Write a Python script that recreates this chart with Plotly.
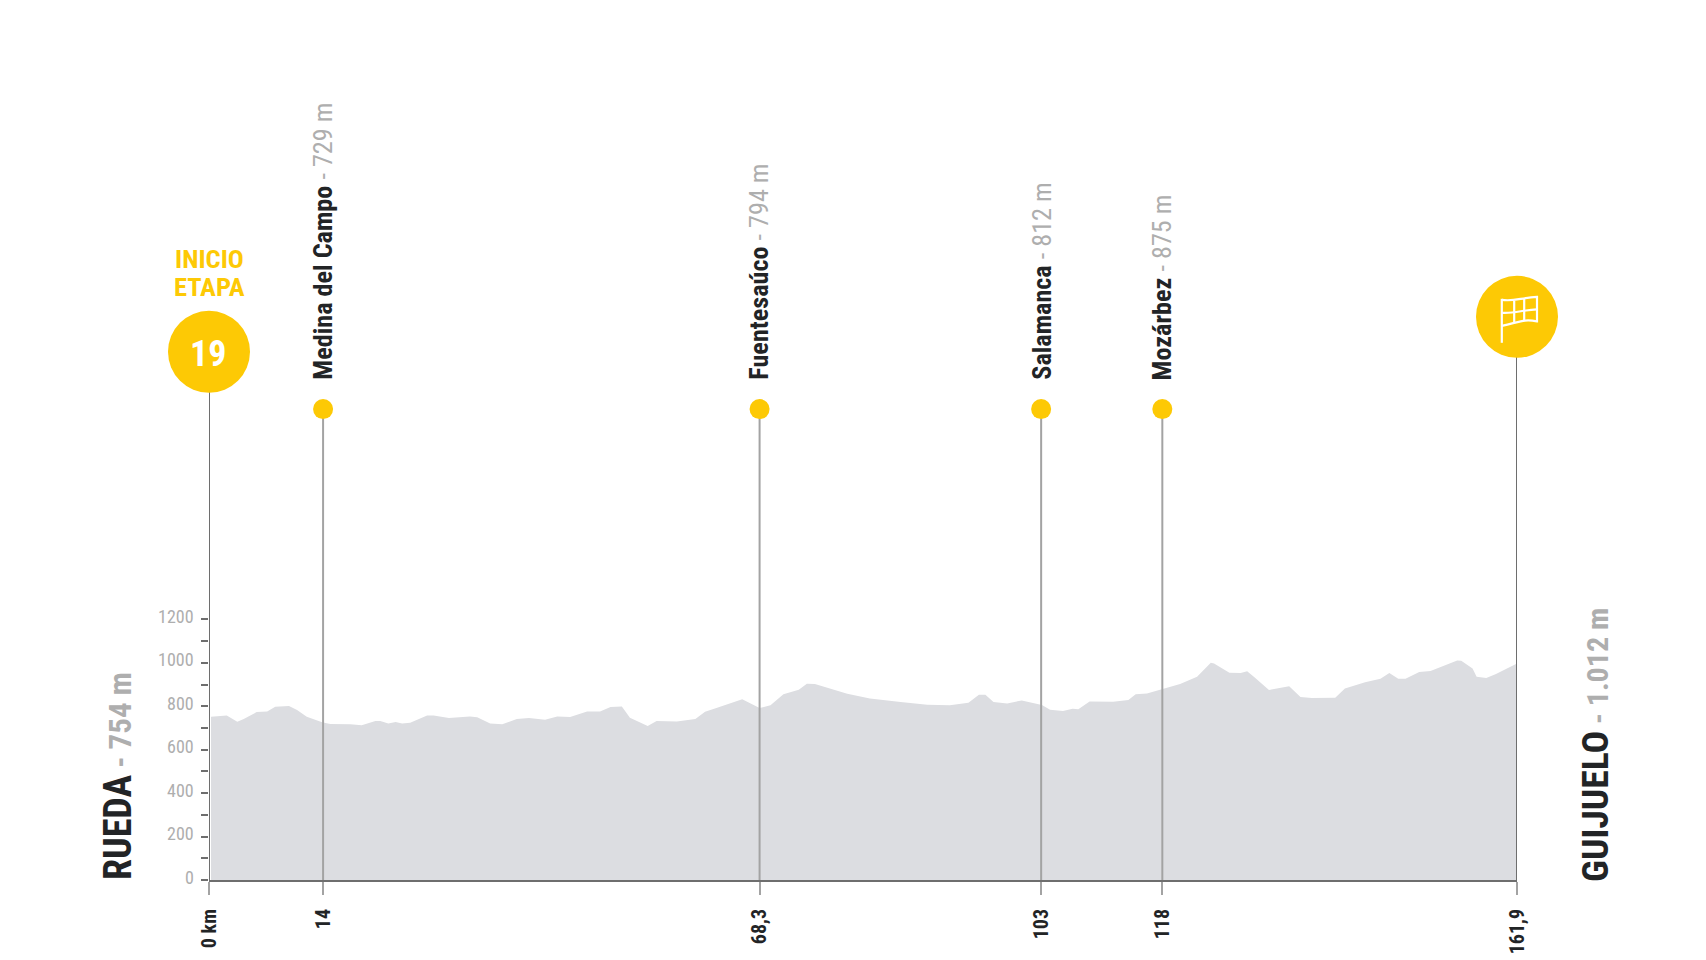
import plotly.graph_objects as go

km = [0.25,1.0,2.2,3.5,4.3,5.9,7.2,8.2,9.9,10.9,12.1,14,15,17.5,18.9,20.6,21.2,22.2,23.1,23.9,24.9,27,27.8,29.7,32.3,33.2,34.8,36.3,38.1,39.6,41.6,43.1,
      44.7,46.8,48.4,49.7,51.1,52.1,54.3,55.4,57.9,60.2,61.4,62.9,66,68.15,69.5,71.1,73,74,75,79,81.8,85.6,88.9,91.7,94,95.3,96.1,97.1,98.8,100.6,103.1,
      104.1,105.7,106.9,107.6,109,111.9,113.8,114.7,116.1,118,120.2,122.3,124,124.4,126.3,127.7,128.5,129.4,131.2,133.7,135.1,136.5,139.4,140.6,143.1,145,146.1,147.2,148.1,149.8,151.2,154.5,155,156.4,156.9,158.1,159.3,161.9]
elevation = [752,755,757,729,741,773,776,798,801,783,752,726,718,717,712,732,732,720,727,720,724,757,757,746,753,749,720,717,741,746,738,753,
      750,776,776,796,799,747,709,732,730,741,775,793,832,792,804,855,876,904,902,858,836,819,807,804,816,853,853,819,813,827,806,
      784,778,789,786,822,821,829,855,859,878,902,936,1000,997,954,953,961,933,875,892,842,838,839,882,910,927,953,927,927,958,962,1011,1010,974,936,930,948,997]

stop_km = [14.12, 68.15, 103, 118]
stop_names = ["Medina del Campo", "Fuentesaúco", "Salamanca", "Mozárbez"]
stop_heights = ["729 m", "794 m", "812 m", "875 m"]
x_tick_vals = [0, 14.12, 68.15, 103, 118, 161.9]
x_tick_text = ["0 km", "14", "68,3", "103", "118", "161,9"]
y_ticks = list(range(0, 1300, 100))
y_labels = [0, 200, 400, 600, 800, 1000, 1200]

PIN_Y = 2168
START_Y = 2432
END_Y = 2593
TOP = 880 / 0.2172
NARROW = "'Roboto Condensed', 'Liberation Sans Narrow', Roboto, sans-serif"
YEL = "#fdc905"; DARK = "#222426"; GREY = "#aeaeae"; AXIS = "#6e6e6e"; PIN = "#a3a3a3"

fig = go.Figure()
fig.add_trace(go.Scatter(x=km, y=elevation, mode="lines", fill="tozeroy", fillcolor="#dcdde1",
                         line=dict(width=0, color="#dcdde1"), showlegend=False))
for s in stop_km:
    fig.add_trace(go.Scatter(x=[s, s], y=[0, PIN_Y], mode="lines", line=dict(color=PIN, width=2), showlegend=False))
fig.add_trace(go.Scatter(x=[0, 0], y=[0, START_Y], mode="lines", line=dict(color=AXIS, width=2), showlegend=False, cliponaxis=False))
fig.add_trace(go.Scatter(x=[161.9, 161.9], y=[0, END_Y], mode="lines", line=dict(color=AXIS, width=2), showlegend=False, cliponaxis=False))
fig.add_trace(go.Scatter(x=stop_km, y=[PIN_Y]*4, mode="markers", marker=dict(size=20, color=YEL), showlegend=False))
fig.add_trace(go.Scatter(x=[0, 161.9], y=[START_Y, END_Y], mode="markers", marker=dict(size=82, color=YEL), showlegend=False, cliponaxis=False))

ann = []
for s, n, h in zip(stop_km, stop_names, stop_heights):
    ann.append(dict(x=s, y=PIN_Y, yshift=28, xanchor="center", yanchor="bottom", textangle=-90, showarrow=False, borderpad=0,
                    text=f"<b>{n}</b><span style='color:{GREY}'> - {h}</span>", font=dict(family=NARROW, size=26.2, color=DARK)))
for v in y_labels:
    ann.append(dict(x=0, y=v, yshift=3, xshift=-14, xanchor="right", yanchor="middle", showarrow=False, borderpad=0,
                    text=str(v), font=dict(family=NARROW, size=18, color=GREY)))
ann.append(dict(x=0, y=START_Y, xshift=-1, yshift=-2, text="<b>19</b>", showarrow=False, font=dict(family=NARROW, size=36, color="white")))
ann.append(dict(x=0, y=START_Y, yshift=93.5, yanchor="middle", text="<b>INICIO</b>", showarrow=False,
                font=dict(family=NARROW, size=26.5, color=YEL)))
ann.append(dict(x=0, y=START_Y, yshift=65.5, yanchor="middle", text="<b>ETAPA</b>", showarrow=False,
                font=dict(family=NARROW, size=26.5, color=YEL)))
ann.append(dict(x=0, y=0, xshift=-91, yshift=-1, xanchor="center", yanchor="bottom", textangle=-90, showarrow=False, borderpad=0,
                text=f"<b>RUEDA<span style='color:{GREY};font-size:31px'> - 754 m</span></b>", font=dict(family=NARROW, size=38, color=DARK)))
ann.append(dict(x=161.9, y=0, xshift=78, yshift=-3, xanchor="center", yanchor="bottom", textangle=-90, showarrow=False, borderpad=0,
                text=f"<b>GUIJUELO<span style='color:{GREY};font-size:30px'> - 1.012 m</span></b>", font=dict(family=NARROW, size=37.5, color=DARK)))

flag = ["M -15.2 18 L -15.2 -26",
        "M -15.2 17 C -3.5 15 3.5 19 20 20 L 20 -4.5 C 6.5 -2 3.5 -5 -15.2 -9",
        "M -15.2 4 C -3.5 3 6.5 7 20 7.5",
        "M -2.8 16 L -2.8 -6.5", "M 7.2 18.5 L 7.2 -4"]
shapes = [dict(type="path", xref="paper", yref="y", xsizemode="pixel", ysizemode="pixel", xanchor=1, yanchor=END_Y,
               path=p, line=dict(color="white", width=2.2)) for p in flag]

fig.update_layout(
    width=1706, height=960, margin=dict(l=208.7, r=189.2, t=0, b=80), paper_bgcolor="white", plot_bgcolor="white",
    showlegend=False, annotations=ann, shapes=shapes,
    xaxis=dict(range=[0, 161.9], tickvals=x_tick_vals, ticktext=x_tick_text, tickangle=-90, ticks="outside", ticklen=13, tickwidth=2,
               tickcolor=PIN, ticklabelstandoff=6, tickfont=dict(family=NARROW, size=20, color=DARK, weight="bold"),
               showgrid=False, zeroline=False, showline=True, linecolor=AXIS, linewidth=2),
    yaxis=dict(range=[0, TOP], tickvals=y_ticks, ticktext=[""]*len(y_ticks), ticks="outside", ticklen=7, tickwidth=1.5, tickcolor=AXIS,
               showgrid=False, zeroline=False, showline=False),
)
fig.write_html("out.html", config={"displayModeBar": False}, post_script="document.body.style.margin='0';")
